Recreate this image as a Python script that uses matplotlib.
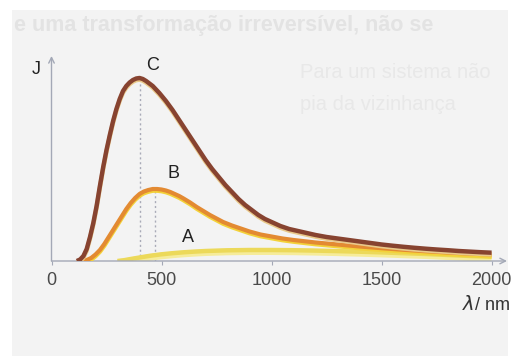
import matplotlib
matplotlib.use('Agg')
import matplotlib.pyplot as plt
from matplotlib.patches import Rectangle
import matplotlib.transforms as mtransforms

# wavelength (nm) / J (arbitrary units)
lam_C = [115, 130, 145, 160, 175, 190, 205, 220, 235, 250, 265, 280, 295, 310,
         325, 340, 355, 370, 385, 400, 415, 430, 460, 490, 520, 550, 580, 610,
         640, 670, 700, 730, 760, 790, 820, 850, 880, 910, 940, 970, 1000,
         1040, 1080, 1120, 1160, 1200, 1250, 1300, 1350, 1400, 1450, 1500,
         1550, 1600, 1650, 1700, 1750, 1800, 1850, 1900, 1950, 2000]
J_C = [0, 1.5, 5, 12, 24, 38, 55, 75, 94, 111, 126, 140, 152, 162,
       170, 175, 178.5, 181, 182.5, 183, 182, 180, 175, 168, 160, 151, 141, 131,
       121, 111, 101, 92, 84, 76, 69, 62, 56, 51, 46, 42, 39,
       35, 32, 30, 28, 26, 24, 22.5, 21, 19.5, 18, 16.5,
       15.3, 14.2, 13.2, 12.3, 11.5, 10.8, 10, 9.4, 8.8, 8.3]

lam_B = [140, 160, 180, 200, 220, 240, 260, 280, 300, 320, 340, 360, 380, 400,
         420, 440, 460, 480, 500, 520, 540, 560, 580, 600, 630, 660, 690, 720,
         750, 780, 820, 860, 900, 950, 1000, 1050, 1100, 1200, 1300, 1400,
         1500, 1600, 1700, 1800, 1900, 2000]
J_B = [0, 1, 3, 6.5, 11, 17, 24, 31, 38, 45, 52, 58, 63, 67,
       69.5, 71, 72, 72, 71.5, 70.5, 69, 67, 65, 62.5, 58.5, 54, 50, 46,
       42.5, 39, 35.5, 32.5, 29.5, 26.5, 24.5, 22.5, 21, 18.5, 16.5, 14.5,
       12.8, 11.2, 9.8, 8.5, 7.4, 6.5]

lam_A = [300, 330, 360, 400, 450, 500, 550, 600, 650, 700, 800, 900, 1000,
         1100, 1200, 1300, 1400, 1500, 1600, 1700, 1800, 1900, 2000]
J_A = [0, 0.8, 2, 3.5, 5.3, 6.7, 7.8, 8.7, 9.4, 10, 10.7, 11, 11,
       10.8, 10.4, 9.9, 9.3, 8.6, 7.8, 7, 6, 5, 4.2]

peak_lam = {'C': 400, 'B': 470}
peak_J = {'C': 183, 'B': 72}

x_ticks = [0, 500, 1000, 1500, 2000]

FONT = 'Liberation Sans'
AXIS_COL = '#a3a8b6'

fig = plt.figure(figsize=(5.16, 3.56), dpi=100)
fig.patch.set_facecolor('white')

# scanned page background
page = Rectangle((12 / 516, 0), (508 - 12) / 516, (356 - 10) / 356,
                 transform=fig.transFigure, facecolor='#f3f3f3',
                 edgecolor='none', zorder=-3)
fig.patches.append(page)

# faint bleed-through text from the page
ghost = [
    (14, 25, 'e uma transformação irreversível, não se', 15.5, 'bold', '#e3e3e3'),
    (300, 72, 'Para um sistema não', 14.5, 'normal', '#e8e8e8'),
    (300, 104, 'pia da vizinhança', 14.5, 'normal', '#e8e8e8'),
]
for gx, gy, gt, gs, gw, gc in ghost:
    fig.text(gx / 516, 1 - gy / 356, gt, fontsize=gs, family=FONT,
             fontweight=gw, color=gc, va='center', ha='left', zorder=-2)

ax = fig.add_axes([51.5 / 516, (356 - 261) / 356,
                   (507 - 51.5) / 516, (261 - 56) / 356])
ax.set_facecolor('none')
ax.set_xlim(0, 2070)
ax.set_ylim(0, 205)
for s in ax.spines.values():
    s.set_visible(False)

# axes with arrow heads
ax.annotate('', xy=(2070, 0), xytext=(0, 0),
            arrowprops=dict(arrowstyle='->', color=AXIS_COL, lw=1.0,
                            shrinkA=0, shrinkB=0), annotation_clip=False)
ax.annotate('', xy=(0, 205), xytext=(0, 0),
            arrowprops=dict(arrowstyle='->', color=AXIS_COL, lw=1.0,
                            shrinkA=0, shrinkB=0), annotation_clip=False)

ax.set_xticks(x_ticks)
ax.set_xticklabels([str(v) for v in x_ticks], family=FONT, fontsize=13,
                   color='#4a4a4a')
ax.tick_params(axis='x', length=3, width=0.8, color=AXIS_COL, pad=5)
ax.set_yticks([])

# dotted peak markers
for k in ('C', 'B'):
    ax.plot([peak_lam[k], peak_lam[k]], [0, peak_J[k]], color='#a9abb8',
            lw=1.0, ls=(0, (1.5, 2)), zorder=1)

# curves, with a light yellow underside like the print
down = mtransforms.offset_copy(ax.transData, fig=fig, x=0, y=-1.2, units='points')
line_kw = dict(solid_capstyle='butt', solid_joinstyle='round')
ax.plot(lam_A, J_A, color='#f6ec9a', lw=4.8, zorder=2, transform=down, **line_kw)
ax.plot(lam_A, J_A, color='#ecd95a', lw=3.2, zorder=2, **line_kw)

ax.plot(lam_B, J_B, color='#f3d23a', lw=3.2, zorder=3, transform=down, **line_kw)
ax.plot(lam_B, J_B, color='#e38a32', lw=3.0, zorder=3, **line_kw)

ax.plot(lam_C, J_C, color='#e9c98a', lw=3.2, zorder=4, transform=down, **line_kw)
ax.plot(lam_C, J_C, color='#874330', lw=3.2, zorder=4, **line_kw)

# curve labels
lab_kw = dict(family=FONT, fontsize=13, color='#222222', ha='center', va='center')
ax.text(460, 195, 'C', **lab_kw)
ax.text(555, 87, 'B', **lab_kw)
ax.text(620, 23, 'A', **lab_kw)

# axis labels
fig.text(36 / 516, 1 - 69 / 356, 'J', family=FONT, fontsize=13,
         color='#222222', ha='center', va='center')
fig.text(510 / 516, 1 - 305 / 356, '/ nm', family=FONT, fontsize=13,
         color='#333333', ha='right', va='center')
fig.text(474 / 516, 1 - 305 / 356, r'$\lambda$', fontsize=14,
         color='#333333', ha='right', va='center')

fig.savefig('out.png', dpi=100)
